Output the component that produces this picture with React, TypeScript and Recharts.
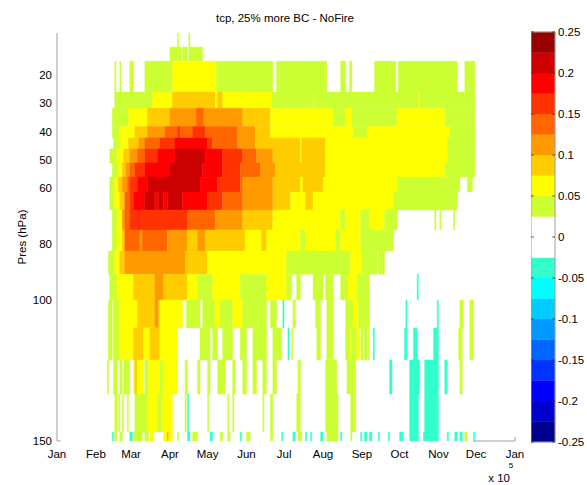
import React from "react";
import { ComposedChart, XAxis, YAxis, Scatter, ReferenceArea, ReferenceLine } from "recharts";

const FONT = '"Liberation Sans", Arial, Helvetica, sans-serif';

// x axis: day of year, labelled by month
const monthTicks = [0, 31, 59, 90, 120, 151, 181, 212, 243, 273, 304, 334, 365];
const monthNames = ["Jan", "Feb", "Mar", "Apr", "May", "Jun", "Jul", "Aug", "Sep", "Oct", "Nov", "Dec", "Jan"];

// y axis: pressure (hPa), linear, reversed
const presTicks = [20, 30, 40, 50, 60, 80, 100, 150];
const pressureEdges = [5, 10, 15, 26, 31.7, 38.2, 42.3, 46.2, 51.2, 56.2, 61.5, 67.9, 75, 82.5, 90.7, 99.9, 109.8, 121.2, 133.3, 146.8, 150];

// colour levels of the colorbar
const levelEdges = [-0.25, -0.225, -0.2, -0.175, -0.15, -0.125, -0.1, -0.075, -0.05, -0.025, 0, 0.025, 0.05, 0.075, 0.1, 0.125, 0.15, 0.175, 0.2, 0.225, 0.25];
const levelColors = [
  "#00008f", "#0000cc", "#0000ff", "#0033ff", "#0066ff", "#0099ff", "#00ccff", "#00ffff", "#33ffcc", "#ffffff",
  "#ffffff", "#ccff33", "#ffff00", "#ffcc00", "#ff9900", "#ff6600", "#ff3300", "#ff0000", "#cc0000", "#990000",
];
const cbarTicks = [0.25, 0.2, 0.15, 0.1, 0.05, 0, -0.05, -0.1, -0.15, -0.2, -0.25];

// each band: [startDay, endDay, value] between two pressure edges (top to bottom)
const band00 = [[96, 97, 0.04], [105, 106, 0.04]];
const band01 = [[90, 99, 0.04], [100, 104, 0.04], [105, 116, 0.04]];
const band02 = [[46, 47, 0.04], [50, 51, 0.04], [58, 61, 0.04], [70, 92, 0.04], [92, 127, 0.06], [127, 172, 0.04], [175, 215, 0.04], [226, 230, 0.04], [233, 235, 0.04], [253, 270, 0.04], [272, 319, 0.04], [325, 333, 0.04]];
const band03 = [[46, 76, 0.04], [76, 92, 0.06], [92, 126, 0.09], [126, 128, 0.06], [128, 132, 0.09], [132, 171, 0.06], [171, 204, 0.04], [204, 205, 0.06], [205, 288, 0.04], [288, 289, 0.06], [289, 333, 0.04]];
const band04 = [[44, 57, 0.04], [57, 72, 0.06], [72, 90, 0.09], [90, 111, 0.11], [111, 117, 0.14], [117, 148, 0.11], [148, 170, 0.09], [170, 220, 0.06], [220, 230, 0.04], [230, 235, 0.06], [235, 271, 0.04], [271, 309, 0.06], [309, 333, 0.04]];
const band05 = [[44, 50, 0.04], [50, 62, 0.06], [62, 72, 0.09], [72, 86, 0.11], [86, 96, 0.14], [96, 98, 0.16], [98, 108, 0.14], [108, 118, 0.16], [118, 144, 0.14], [144, 158, 0.11], [158, 170, 0.09], [170, 236, 0.06], [236, 247, 0.04], [247, 313, 0.06], [313, 333, 0.04]];
const band06 = [[45, 50, 0.04], [50, 57, 0.06], [57, 65, 0.09], [65, 70, 0.11], [70, 82, 0.14], [82, 94, 0.16], [94, 120, 0.19], [120, 124, 0.16], [124, 144, 0.14], [144, 158, 0.11], [158, 194, 0.09], [194, 195, 0.06], [195, 214, 0.09], [214, 311, 0.06], [311, 333, 0.04]];
const band07 = [[42, 48, 0.04], [48, 53, 0.06], [53, 58, 0.09], [58, 64, 0.11], [64, 70, 0.14], [70, 80, 0.16], [80, 94, 0.19], [94, 118, 0.21], [118, 132, 0.19], [132, 148, 0.16], [148, 159, 0.14], [159, 172, 0.11], [172, 194, 0.09], [194, 195, 0.06], [195, 214, 0.09], [214, 311, 0.06], [311, 333, 0.04]];
const band08 = [[44, 49, 0.04], [49, 52, 0.06], [52, 55, 0.09], [55, 58, 0.11], [58, 62, 0.14], [62, 70, 0.16], [70, 90, 0.19], [90, 116, 0.21], [116, 132, 0.19], [132, 146, 0.16], [146, 162, 0.14], [162, 174, 0.11], [174, 214, 0.09], [214, 309, 0.06], [309, 333, 0.04]];
const band09 = [[42, 46, 0.04], [46, 49, 0.06], [49, 52, 0.09], [52, 56, 0.11], [56, 58, 0.14], [58, 64, 0.16], [64, 72, 0.19], [72, 114, 0.21], [114, 128, 0.19], [128, 146, 0.16], [146, 148, 0.14], [148, 172, 0.11], [172, 194, 0.09], [194, 196, 0.06], [196, 212, 0.09], [212, 271, 0.06], [271, 321, 0.04], [327, 331, 0.04]];
const band10 = [[42, 46, 0.04], [46, 50, 0.06], [50, 54, 0.09], [54, 58, 0.14], [58, 61, 0.16], [61, 70, 0.19], [70, 78, 0.21], [78, 81, 0.19], [81, 85, 0.21], [85, 88, 0.19], [88, 100, 0.21], [100, 120, 0.19], [120, 132, 0.16], [132, 148, 0.14], [148, 172, 0.11], [172, 186, 0.09], [186, 198, 0.06], [198, 204, 0.09], [204, 268, 0.06], [268, 319, 0.04]];
const band11 = [[44, 48, 0.04], [48, 52, 0.06], [52, 54, 0.11], [54, 58, 0.14], [58, 65, 0.16], [65, 66, 0.19], [66, 104, 0.16], [104, 126, 0.14], [126, 148, 0.11], [148, 172, 0.09], [172, 226, 0.06], [226, 230, 0.04], [230, 242, 0.06], [242, 249, 0.04], [249, 261, 0.06], [261, 271, 0.04], [301, 302, 0.04], [305, 306, 0.04], [316, 317, 0.04]];
const band12 = [[44, 48, 0.04], [48, 52, 0.06], [52, 54, 0.09], [54, 66, 0.14], [66, 68, 0.11], [68, 88, 0.14], [88, 104, 0.11], [104, 112, 0.09], [112, 118, 0.11], [118, 150, 0.09], [150, 163, 0.06], [163, 167, 0.09], [167, 194, 0.06], [194, 198, 0.04], [198, 222, 0.06], [222, 226, 0.04], [226, 242, 0.06], [242, 268, 0.04]];
const band13 = [[41, 46, 0.04], [46, 50, 0.06], [50, 54, 0.09], [54, 102, 0.11], [102, 120, 0.09], [120, 183, 0.06], [183, 234, 0.04], [234, 243, 0.06], [243, 255, 0.04], [256, 261, 0.04]];
const band14 = [[42, 48, 0.04], [48, 61, 0.06], [61, 78, 0.09], [78, 85, 0.11], [85, 104, 0.09], [104, 112, 0.06], [112, 124, 0.04], [124, 146, 0.06], [146, 167, 0.04], [167, 183, 0.06], [183, 187, 0.04], [191, 194, 0.04], [204, 212, 0.04], [214, 220, 0.04], [226, 232, 0.04], [232, 239, 0.06], [239, 249, 0.04], [287, 288, -0.04]];
const band15 = [[41, 44, 0.04], [45, 50, 0.04], [50, 64, 0.06], [64, 78, 0.09], [78, 81, 0.11], [81, 82, 0.09], [82, 100, 0.06], [103, 114, 0.04], [116, 126, 0.04], [126, 130, 0.06], [130, 140, 0.04], [140, 148, 0.06], [148, 167, 0.04], [170, 175, 0.04], [180, 181, -0.04], [188, 190, 0.04], [206, 210, 0.04], [215, 220, 0.04], [230, 236, 0.04], [236, 240, 0.06], [240, 249, 0.04], [278, 279, -0.04], [303, 304, -0.04], [321, 324, 0.04], [329, 332, 0.04]];
const band16 = [[41, 44, 0.04], [45, 50, 0.04], [50, 61, 0.06], [61, 69, 0.09], [69, 74, 0.06], [74, 82, 0.09], [82, 96, 0.06], [114, 122, 0.04], [124, 128, 0.04], [132, 140, 0.04], [146, 151, 0.04], [156, 167, 0.04], [172, 179, 0.04], [184, 185, -0.04], [187, 188, 0.04], [207, 210, 0.04], [215, 220, 0.04], [230, 234, 0.04], [234, 235, 0.06], [235, 239, 0.04], [239, 241, 0.06], [242, 244, 0.04], [245, 247, 0.04], [248, 249, 0.04], [252, 253, -0.04], [277, 279, -0.04], [284, 287, -0.04], [300, 304, -0.04], [320, 323, 0.04], [329, 332, 0.04]];
const band17 = [[40, 41, 0.04], [45, 48, 0.04], [50, 52, 0.04], [53, 58, 0.04], [61, 62, 0.06], [62, 64, 0.09], [64, 69, 0.06], [70, 73, 0.04], [73, 82, 0.06], [82, 85, 0.04], [85, 96, 0.06], [102, 104, 0.04], [112, 114, 0.04], [120, 122, 0.04], [128, 134, 0.04], [140, 142, 0.04], [148, 151, 0.04], [156, 159, 0.04], [164, 167, 0.04], [172, 175, 0.04], [192, 194, 0.04], [214, 223, 0.04], [231, 238, 0.04], [265, 267, -0.04], [281, 289, -0.04], [293, 304, -0.04], [309, 311, -0.04], [321, 323, 0.04]];
const band18 = [[46, 48, 0.04], [49, 50, 0.04], [52, 53, 0.04], [56, 57, 0.04], [62, 72, 0.04], [72, 80, 0.06], [80, 84, 0.04], [84, 92, 0.06], [102, 103, 0.04], [104, 105, -0.04], [120, 121, 0.04], [136, 137, 0.04], [140, 141, 0.04], [164, 165, 0.04], [170, 172, 0.04], [191, 194, 0.04], [214, 224, 0.04], [234, 238, 0.04], [281, 288, -0.04], [293, 304, -0.04]];
const band19 = [[44, 45, -0.04], [46, 48, 0.04], [50, 52, 0.04], [58, 60, -0.04], [61, 68, 0.04], [70, 73, 0.04], [74, 77, 0.06], [85, 88, 0.06], [88, 89, 0.11], [89, 92, 0.06], [96, 97, 0.04], [104, 106, -0.04], [108, 112, 0.04], [122, 124, -0.04], [130, 132, 0.04], [136, 138, 0.04], [146, 147, -0.04], [151, 154, 0.04], [170, 172, 0.04], [179, 180, -0.04], [188, 190, -0.04], [192, 195, 0.04], [198, 199, -0.04], [202, 203, -0.04], [210, 212, -0.04], [215, 224, 0.04], [226, 227, -0.04], [234, 235, 0.04], [242, 243, -0.04], [245, 247, -0.04], [249, 251, -0.04], [256, 257, -0.04], [264, 265, -0.04], [273, 276, -0.04], [281, 288, -0.04], [292, 304, -0.04], [311, 312, -0.04], [317, 319, -0.04], [321, 323, -0.04], [325, 327, 0.04], [332, 333, -0.04]];

const bands = [band00, band01, band02, band03, band04, band05, band06, band07, band08, band09, band10, band11, band12, band13, band14, band15, band16, band17, band18, band19];

const colorFor = (v: number) => {
  for (let i = 0; i < levelColors.length; i++) {
    if (v >= levelEdges[i] && v < levelEdges[i + 1]) return levelColors[i];
  }
  return levelColors[levelColors.length - 1];
};

// centre of every cell, so the axes have data to work on
const cellPoints = bands.flatMap((band, bi) =>
  band.map(([x1, x2, v]) => ({ day: (x1 + x2) / 2, pres: (pressureEdges[bi] + pressureEdges[bi + 1]) / 2, v }))
);
const levelPoints = levelColors.map((c, i) => ({ pos: 0.5, lvl: (levelEdges[i] + levelEdges[i + 1]) / 2 }));

const tickStyle = { fill: "#000", fontSize: 11.5, fontFamily: FONT };
const NoDot = () => <g />;

export default function App() {
  const cells = bands.flatMap((band, bi) =>
    band.map(([x1, x2, v], ci) => {
      const c = colorFor(v);
      return (
        <ReferenceArea
          key={`c-${bi}-${ci}`}
          x1={x1}
          x2={x2}
          y1={pressureEdges[bi]}
          y2={pressureEdges[bi + 1]}
          fill={c}
          fillOpacity={1}
          stroke={c}
          strokeWidth={0.4}
          ifOverflow="visible"
        />
      );
    })
  );

  return (
    <div style={{ position: "absolute", left: 0, top: 0, width: 587, height: 485, background: "#fff", fontFamily: FONT }}>
      {/* main heatmap */}
      <div style={{ position: "absolute", left: 0, top: 0 }}>
        <ComposedChart width={531} height={485} margin={{ top: 33, right: 16, bottom: 0, left: 0 }}>
          <XAxis
            type="number"
            dataKey="day"
            domain={[0, 365]}
            ticks={monthTicks}
            interval={0}
            tickFormatter={(v) => monthNames[monthTicks.indexOf(v)]}
            axisLine={false}
            tickLine={false}
            tickSize={0}
            tickMargin={9}
            height={44}
            tick={tickStyle}
            allowDataOverflow
          />
          <YAxis
            type="number"
            dataKey="pres"
            domain={[5, 150]}
            reversed
            ticks={presTicks}
            interval={0}
            width={57}
            axisLine={{ stroke: "#a0a0a0" }}
            tickLine={false}
            tickSize={0}
            tickMargin={5}
            tick={tickStyle}
            allowDataOverflow
          />
          <Scatter data={cellPoints} dataKey="pres" shape={NoDot} isAnimationActive={false} />
          {cells}
          <ReferenceLine segment={[{ x: 332, y: 150 }, { x: 365, y: 150 }]} stroke="#a0a0a0" ifOverflow="visible" />
          <ReferenceLine segment={[{ x: 365, y: 150 }, { x: 365, y: 148.5 }]} stroke="#a0a0a0" ifOverflow="visible" />
          <ReferenceLine segment={[{ x: 0, y: 150 }, { x: 3, y: 150 }]} stroke="#a0a0a0" ifOverflow="visible" />
        </ComposedChart>
      </div>

      {/* colorbar */}
      <div style={{ position: "absolute", left: 531, top: 0 }}>
        <ComposedChart width={56} height={485} margin={{ top: 32, right: 0, bottom: 43, left: 0 }}>
          <XAxis type="number" dataKey="pos" domain={[0, 1]} hide />
          <YAxis
            type="number"
            dataKey="lvl"
            orientation="right"
            domain={[-0.25, 0.25]}
            ticks={cbarTicks}
            interval={0}
            width={32}
            axisLine={false}
            tickLine={false}
            tickSize={0}
            tickMargin={3}
            tick={tickStyle}
            tickFormatter={(v) => String(v)}
          />
          <Scatter data={levelPoints} dataKey="lvl" shape={NoDot} isAnimationActive={false} />
          {levelColors.map((c, i) => (
            <ReferenceArea
              key={`l-${i}`}
              x1={0}
              x2={1}
              y1={levelEdges[i]}
              y2={levelEdges[i + 1]}
              fill={c}
              fillOpacity={1}
              stroke={c}
              strokeWidth={0.4}
            />
          ))}
          <ReferenceArea x1={0} x2={1} y1={-0.25} y2={0.25} fill="none" fillOpacity={0} stroke="#a0a0a0" strokeWidth={1} />
          {cbarTicks.map((v) => (
            <ReferenceLine key={`tl-${v}`} segment={[{ x: 0, y: v }, { x: 0.12, y: v }]} stroke="#333" strokeWidth={0.8} />
          ))}
          {cbarTicks.map((v) => (
            <ReferenceLine key={`tr-${v}`} segment={[{ x: 0.88, y: v }, { x: 1, y: v }]} stroke="#333" strokeWidth={0.8} />
          ))}
        </ComposedChart>
      </div>

      {/* titles */}
      <svg width={587} height={485} style={{ position: "absolute", left: 0, top: 0, pointerEvents: "none" }}>
        <text x={285} y={22} textAnchor="middle" fontSize={11.5} fontFamily={FONT} fill="#000">
          tcp, 25% more BC - NoFire
        </text>
        <text transform="translate(26,237) rotate(-90)" textAnchor="middle" fontSize={11.5} fontFamily={FONT} fill="#000">
          Pres (hPa)
        </text>
        <text x={510} y={482} textAnchor="end" fontSize={11.5} fontFamily={FONT} fill="#000">
          x 10
        </text>
        <text x={511} y={468} textAnchor="middle" fontSize={8} fontFamily={FONT} fill="#000">
          5
        </text>
      </svg>
    </div>
  );
}
